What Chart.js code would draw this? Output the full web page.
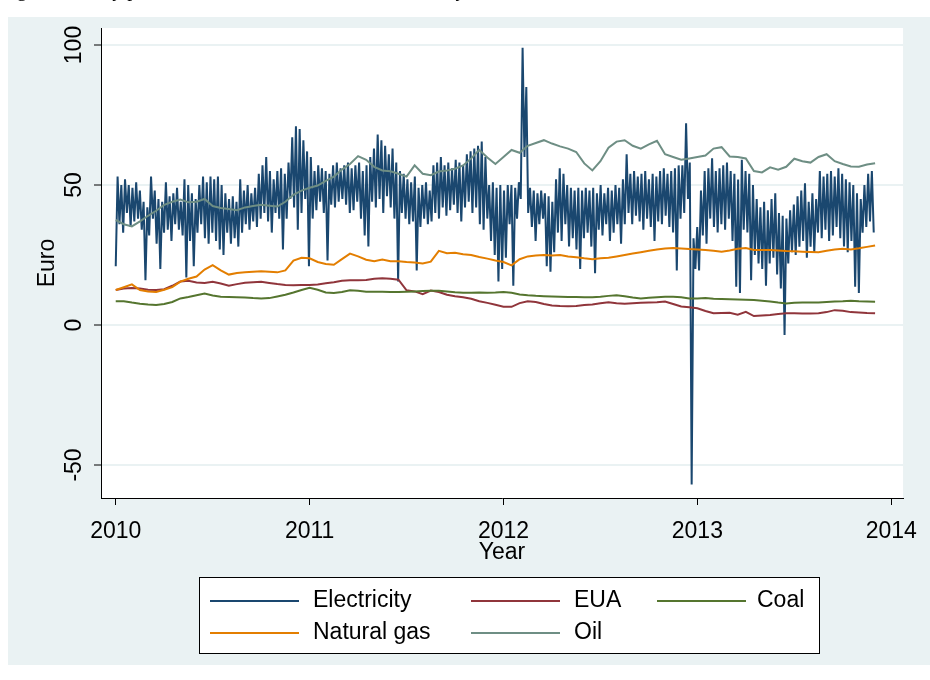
<!DOCTYPE html>
<html>
<head>
<meta charset="utf-8">
<script src="https://cdn.jsdelivr.net/npm/chart.js@4.4.1/dist/chart.umd.min.js"></script>
<style>
  html, body { margin: 0; padding: 0; background: #fff; overflow: hidden; }
  #wrap { position: relative; width: 930px; height: 680px; }
  #chart { position: absolute; left: 0; top: 0; }
  #caption {
    position: absolute; left: 0; top: -23px;
    font-family: "Liberation Serif", "Times New Roman", serif;
    font-size: 20px; line-height: 24px; white-space: nowrap; color: #000;
  }
</style>
</head>
<body>
<div id="wrap">
  <canvas id="chart" width="930" height="680"></canvas>
  <div id="caption">Figure 1: Daily prices of the German wholesale electricity, EUA and coal</div>
</div>
<script>
// ---- tick labels ----
const yearTicks = [2010, 2011, 2012, 2013, 2014];
const euroTicks = [-50, 0, 50, 100];

// ---- electricity (EUR/MWh), one weekend low and one weekday high per week from 1 Jan 2010 ----
const elecLow = [
  21, 36, 33, 40, 35, 37, 38, 34, 16, 32,
  38, 29, 20, 33, 34, 30, 36, 34, 32, 17,
  30, 21, 33, 36, 31, 29, 33, 30, 27, 25,
  33, 29, 31, 28, 33, 36, 34, 37, 35, 38,
  40, 37, 33, 40, 38, 27, 38, 45, 42, 34,
  40, 45, 21, 38, 41, 44, 40, 23, 43, 42,
  44, 45, 43, 40, 41, 44, 38, 32, 28, 44,
  42, 45, 40, 46, 42, 38, 15.5, 40, 38, 36,
  37, 19.5, 35, 38, 36, 37, 40, 38, 42, 39,
  41, 43, 40, 37, 42, 44, 40, 42, 36, 34,
  38, 30, 25, 15.5, 20, 24, 36, 14, 38, 45,
  60, 40, 35, 30, 36, 38, 21, 19, 26, 33,
  30, 36, 28, 31, 27, 20, 31, 33, 28, 18.5,
  34, 32, 36, 30, 33, 36, 29, 36, 40, 36,
  39, 37, 34, 38, 35, 30, 37, 36, 39, 35,
  33, 19.5, 38, 40, 45, -57, 20, 19.5, 32, 29,
  38, 35, 33, 36, 34, 38, 30, 13.7, 11.4, 34,
  33, 16, 25, 22, 20, 14, 22, 24, 18, 13,
  -3.6, 22, 26, 25, 28, 30, 24, 28, 26, 33,
  31, 34, 30, 32, 35, 31, 28, 26, 30, 13.7,
  11.4, 33, 35, 37, 33
];
const elecHigh = [
  53, 50, 52, 50, 49, 51, 48, 44, 42, 53,
  48, 45, 44, 51, 46, 47, 49, 44, 52, 50,
  47, 45, 50, 53, 51, 53, 52, 53, 50, 47,
  45, 46, 44, 52, 48, 50, 47, 49, 54, 57,
  60, 55, 52, 55, 56, 54, 58, 67, 71, 70,
  66, 62, 60, 55, 57, 56, 55, 54, 57, 58,
  56, 57, 58, 56, 57, 58, 55, 57, 60, 63,
  68, 66, 64, 61, 63, 58, 55, 54, 52, 51,
  53, 49, 50, 51, 48, 57, 58, 60, 57, 58,
  56, 59, 58, 57, 61, 62, 63, 64, 65.5, 60,
  50, 51, 49, 50, 48, 50, 50, 49, 51, 99,
  85, 49, 48, 47, 48, 47, 46, 44, 52, 56,
  54, 50, 49, 48, 49, 48, 49, 48, 49, 47,
  50, 47, 49, 48, 50, 49, 52, 61, 54, 55,
  53, 54, 55, 52, 54, 53, 55, 56, 54, 55,
  56, 57, 57, 72, 58, 31, 35, 48, 55, 56,
  59.5, 55, 56, 57, 58, 55, 54, 52, 59, 55,
  54, 50, 45, 42, 44, 41, 45, 47, 40, 39,
  38, 41, 43, 46, 48, 50.6, 44, 47, 45, 55,
  53, 54, 55, 53, 56, 54, 52, 51, 50, 47,
  45, 50, 54, 55
];

// ---- fuels and carbon (EUR), twice a month from 1 Jan 2010 ----
const naturalGas = [
  12.5, 13.5, 14.5, 12.5, 12, 11.8, 12.6, 13.5, 15.5, 16.5,
  17.3, 19.8, 21.4, 19.5, 18, 18.6, 18.8, 19, 19.2, 19,
  18.8, 19.5, 23, 24, 23.8, 22.5, 21.8, 21.5, 23.5, 25.5,
  24.5, 23.3, 22.8, 23.4, 22.8, 22.8, 22.5, 22.3, 22, 22.6,
  26.5, 25.6, 25.8, 25.3, 25, 24.3, 23.7, 23, 22.5, 21.3,
  23.5, 24.5, 24.8, 25, 24.8, 25, 24.5, 24.2, 23.8, 23.5,
  23.8, 24, 24.5, 25, 25.5, 26, 26.5, 27, 27.3, 27.5,
  27.3, 27.1, 27, 26.8, 26.5, 26.2, 26.6, 27.2, 27.5, 26.8,
  26.8, 26.8, 26.6, 26.4, 26.3, 26.2, 26.1, 26, 26.5, 27,
  27.2, 27, 27.4, 27.9, 28.4
];
const eua = [
  12.5, 13, 13.2, 13, 12.6, 12.5, 12.8, 14, 15.5, 15.8,
  15.2, 15, 15.4, 14.8, 14, 14.6, 15.1, 15.3, 15.4, 15,
  14.6, 14.3, 14.2, 14.3, 14.3, 14.5, 14.9, 15.3, 15.8, 16,
  16, 16.1, 16.5, 16.7, 16.5, 16.2, 12.4, 12, 11, 12.3,
  11.8, 10.8, 10.3, 9.9, 9.4, 8.5, 7.9, 7.2, 6.5, 6.5,
  7.8, 8.5, 8.2, 7.5, 7, 6.8, 6.7, 6.8, 7.1, 7.3,
  7.8, 8.1, 7.8, 7.6, 7.8, 7.9, 8, 8.1, 8.4, 7.5,
  6.6, 6.3, 6, 5, 4.2, 4.3, 4.4, 3.7, 4.7, 3.2,
  3.4, 3.6, 3.9, 4.2, 4.2, 4.1, 4.1, 4.2, 4.6, 5.3,
  5.1, 4.6, 4.5, 4.3, 4.2
];
const coal = [
  8.5, 8.5, 8, 7.6, 7.3, 7.1, 7.5, 8.2, 9.5, 10,
  10.6, 11.2, 10.5, 10.1, 10, 9.9, 9.8, 9.6, 9.5, 9.6,
  10.2, 10.8, 11.6, 12.5, 13.3, 12.6, 11.6, 11.4, 11.8, 12.4,
  12.2, 11.9, 11.9, 11.9, 11.8, 11.8, 11.9, 12, 12.1, 12.2,
  12.2, 12, 11.7, 11.5, 11.5, 11.6, 11.5, 11.6, 11.8, 11.5,
  10.9, 10.6, 10.4, 10.3, 10.2, 10.1, 10, 10, 9.9, 9.9,
  10.1, 10.4, 10.6, 10.3, 9.8, 9.5, 9.7, 9.9, 10.1, 10.1,
  9.9, 9.5, 9.5, 9.6, 9.4, 9.3, 9.2, 9.1, 9, 8.9,
  8.7, 8.4, 8, 7.7, 7.9, 8, 8, 8, 8.2, 8.4,
  8.5, 8.7, 8.5, 8.4, 8.3
];
const oil = [
  37.5, 36, 35.2, 37, 39, 40.8, 42.9, 44, 44.8, 43.8,
  44, 45, 42.5, 41.8, 41.4, 41, 42, 42.5, 42.9, 42.6,
  42.3, 44, 46.5, 48, 49, 49.8, 51.5, 53, 55.5, 57.5,
  60.3, 59, 56.5, 55.2, 54.9, 54, 53, 57, 54, 53.5,
  54.8, 55.2, 55.8, 57, 59.5, 62.5, 59.8, 57.5, 60, 62.5,
  61.5, 64, 65, 66, 64.8, 63.8, 63, 61.8, 57.7, 55.2,
  58.5, 63.3, 65.5, 66, 64, 63, 64.5, 65.8, 61, 60,
  59, 59.5, 60, 60.5, 63, 63.5, 60.2, 60, 59.5, 55,
  54.5, 56.3, 55.5, 56.5, 59.4, 58.5, 58, 60, 61, 58.5,
  57.5, 56.6, 56.5, 57.3, 57.8
];

// ---- build {x: decimal year, y} points ----
const DAY = 1 / 365.25;
const electricityPoints = [];
for (let w = 0; w < elecLow.length; w++) {
  const start = 2010 + w * 7 * DAY;
  electricityPoints.push({ x: start, y: elecLow[w] });
  if (w < elecHigh.length) electricityPoints.push({ x: start + 3.5 * DAY, y: elecHigh[w] });
}
const halfMonthly = arr => arr.map((v, k) => ({ x: 2010 + k / 24, y: v }));

const FONT = '"Liberation Sans", Arial, Helvetica, sans-serif';
const series = [
  { label: 'Electricity', color: '#1A476F', points: electricityPoints, order: 5 },
  { label: 'EUA',         color: '#90353B', points: halfMonthly(eua), order: 4 },
  { label: 'Coal',        color: '#55752F', points: halfMonthly(coal), order: 3 },
  { label: 'Natural gas', color: '#E37E00', points: halfMonthly(naturalGas), order: 2 },
  { label: 'Oil',         color: '#6E8E84', points: halfMonthly(oil), order: 1 }
];

// graph region background and white plot region
const backdrop = {
  id: 'backdrop',
  beforeDraw(chart) {
    const { ctx, chartArea: a } = chart;
    ctx.save();
    ctx.fillStyle = '#EAF2F3';
    ctx.fillRect(8, 17, 922, 648);
    ctx.fillStyle = '#FFFFFF';
    ctx.fillRect(a.left, a.top, a.right - a.left, a.bottom - a.top);
    ctx.restore();
  }
};

// axis titles and the boxed legend
const annotations = {
  id: 'annotations',
  afterDraw(chart) {
    const { ctx, chartArea: a } = chart;
    ctx.save();
    ctx.fillStyle = '#000';
    ctx.font = '23px ' + FONT;
    ctx.textAlign = 'center';
    ctx.textBaseline = 'middle';
    ctx.fillText('Year', (a.left + a.right) / 2, 553);
    ctx.save();
    ctx.translate(48, (a.top + a.bottom) / 2);
    ctx.rotate(-Math.PI / 2);
    ctx.fillText('Euro', 0, 0);
    ctx.restore();

    // legend box
    ctx.fillStyle = '#FFFFFF';
    ctx.fillRect(199, 577, 621, 77);
    ctx.strokeStyle = '#000';
    ctx.lineWidth = 1;
    ctx.strokeRect(199.5, 577.5, 620, 76);
    const slots = [
      { lx: 210, tx: 313, y: 601 }, { lx: 471, tx: 574, y: 601 }, { lx: 657, tx: 757, y: 601 },
      { lx: 210, tx: 313, y: 633 }, { lx: 471, tx: 574, y: 633 }
    ];
    const legendOrder = ['Electricity', 'EUA', 'Coal', 'Natural gas', 'Oil'];
    ctx.textAlign = 'left';
    legendOrder.forEach((name, i) => {
      const s = series.find(d => d.label === name);
      const p = slots[i];
      ctx.strokeStyle = s.color;
      ctx.lineWidth = 2;
      ctx.beginPath();
      ctx.moveTo(p.lx, p.y);
      ctx.lineTo(p.lx + 89, p.y);
      ctx.stroke();
      ctx.fillStyle = '#000';
      ctx.fillText(name, p.tx, p.y);
    });
    ctx.restore();
  }
};

new Chart(document.getElementById('chart'), {
  type: 'line',
  data: {
    datasets: series.map(s => ({
      label: s.label,
      data: s.points,
      borderColor: s.color,
      backgroundColor: s.color,
      borderWidth: 2,
      pointRadius: 0,
      tension: 0,
      fill: false,
      order: s.order
    }))
  },
  options: {
    responsive: false,
    animation: false,
    events: [],
    layout: { padding: { left: 0, right: 12, top: 28, bottom: 0 } },
    plugins: { legend: { display: false }, tooltip: { enabled: false } },
    scales: {
      x: {
        type: 'linear',
        min: 2009.924,
        max: 2014.061,
        afterBuildTicks: s => { s.ticks = yearTicks.map(v => ({ value: v })); },
        afterFit: s => { s.height = 182; },
        grid: { drawOnChartArea: false, tickColor: '#000', tickLength: 7, tickWidth: 1 },
        border: { color: '#000', width: 1 },
        ticks: {
          font: { family: FONT, size: 23 }, color: '#000', padding: 13,
          maxRotation: 0, autoSkip: false, callback: v => String(v)
        }
      },
      y: {
        type: 'linear',
        min: -61.79,
        max: 106.07,
        afterBuildTicks: s => { s.ticks = euroTicks.map(v => ({ value: v })); },
        afterFit: s => { s.width = 101; },
        grid: { color: '#EAF2F3', lineWidth: 2, tickColor: '#000', tickLength: 7, tickWidth: 1 },
        border: { color: '#000', width: 1 },
        ticks: {
          font: { family: FONT, size: 23 }, color: '#000', padding: 0,
          minRotation: 90, maxRotation: 90, crossAlign: 'center', autoSkip: false,
          callback: v => String(v)
        }
      }
    }
  },
  plugins: [backdrop, annotations]
});
</script>
</body>
</html>
